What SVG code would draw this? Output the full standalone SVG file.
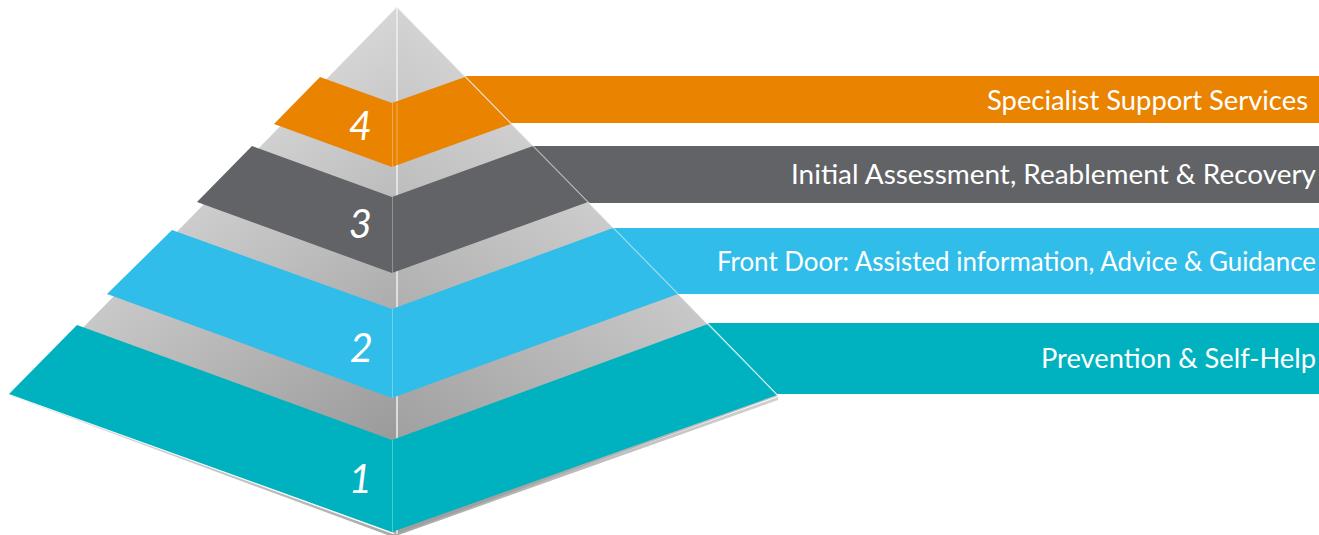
<svg xmlns="http://www.w3.org/2000/svg" width="1319" height="535" viewBox="0 0 1319 535">
  <defs>
    <style>
      .label { font-family: Lato, "Open Sans", "Liberation Sans", sans-serif; font-size: 26px; fill: #ffffff; text-anchor: end; }
      .num { font-family: Lato, "Open Sans", "Liberation Sans", sans-serif; font-size: 40px; font-style: italic; font-weight: 400; fill: #ffffff; text-anchor: end; }
      .seam { stroke: #ffffff; stroke-opacity: 0.3; stroke-width: 1; }
      .t4 { fill: #e98300; }
      .t3 { fill: #626366; }
      .t2 { fill: #31bdea; }
      .t1 { fill: #00b2bf; }
    </style>
    <linearGradient id="faceLeft" gradientUnits="userSpaceOnUse" x1="200" y1="150" x2="397" y2="440">
      <stop offset="0" stop-color="#d5d5d5"/>
      <stop offset="1" stop-color="#9a9a9a"/>
    </linearGradient>
    <linearGradient id="faceRight" gradientUnits="userSpaceOnUse" x1="600" y1="150" x2="397" y2="440">
      <stop offset="0" stop-color="#d3d3d3"/>
      <stop offset="1" stop-color="#a0a0a0"/>
    </linearGradient>
    <linearGradient id="shadow" gradientUnits="userSpaceOnUse" x1="10" y1="0" x2="778" y2="0">
      <stop offset="0" stop-color="#e4dfe2"/>
      <stop offset="0.5" stop-color="#9a9a9a"/>
      <stop offset="1" stop-color="#c8c8c8"/>
    </linearGradient>
  </defs>

  <!-- grey pyramid body -->
  <g id="pyramid">
    <polygon points="10,395 393,534 778,397 778,400 393,537 14,397" fill="url(#shadow)" opacity="0.85"/>
    <polygon points="397,7 18,394 397,534" fill="url(#faceLeft)"/>
    <polygon points="397,7 397,534 778,396" fill="url(#faceRight)"/>
    <line x1="397" y1="7" x2="397" y2="534" stroke="#efefef" stroke-width="1.5"/>
  </g>

  <!-- tier 1 -->
  <g id="tier-1">
    <polygon class="t1" points="77,325 392,440 392,532 9,394"/>
    <polygon class="t1" points="392,440 708,324 777,395 392,532"/>
    <polygon class="t1" points="708,323 1319,323 1319,394 777,394"/>
    <line class="seam" x1="392.5" y1="440" x2="392.5" y2="532"/>
    <text class="num" x="372" y="493">1</text>
    <text class="label" x="1316" y="368" textLength="275" lengthAdjust="spacingAndGlyphs">Prevention &amp; Self-Help</text>
  </g>

  <!-- tier 2 -->
  <g id="tier-2">
    <polygon class="t2" points="172,230 392,309 392,398 107,294"/>
    <polygon class="t2" points="392,309 613,228 678,294 392,398"/>
    <polygon class="t2" points="613,228 1319,228 1319,294 678,294"/>
    <line class="seam" x1="392.5" y1="309" x2="392.5" y2="398"/>
    <text class="num" x="373" y="362">2</text>
    <text class="label" x="1316" y="271" textLength="599" lengthAdjust="spacingAndGlyphs">Front Door: Assisted information, Advice &amp; Guidance</text>
  </g>

  <!-- tier 3 -->
  <g id="tier-3">
    <polygon class="t3" points="252,146 392,197 392,273 197,202"/>
    <polygon class="t3" points="392,197 533,146 588,202 392,273"/>
    <polygon class="t3" points="533,146 1319,146 1319,203 589,203"/>
    <line class="seam" x1="392.5" y1="197" x2="392.5" y2="273"/>
    <text class="num" x="372" y="238">3</text>
    <text class="label" x="1316" y="184" textLength="525" lengthAdjust="spacingAndGlyphs">Initial Assessment, Reablement &amp; Recovery</text>
  </g>

  <!-- tier 4 -->
  <g id="tier-4">
    <polygon class="t4" points="320,77 392,103 392,167 274,124"/>
    <polygon class="t4" points="392,103 465,77 511,124 392,167"/>
    <polygon class="t4" points="465,76 1319,76 1319,123 511,123"/>
    <line class="seam" x1="392.5" y1="103" x2="392.5" y2="167"/>
    <line x1="397" y1="103" x2="397" y2="167" stroke="#ffffff" stroke-opacity="0.35" stroke-width="1"/>
    <text class="num" x="372" y="140">4</text>
    <text class="label" x="1308" y="110" textLength="321" lengthAdjust="spacingAndGlyphs">Specialist Support Services</text>
  </g>

  <!-- pyramid ridge highlight drawn across the bars -->
  <g id="connectors">
    <line x1="397" y1="7" x2="778" y2="396" stroke="#ffffff" stroke-opacity="0.45" stroke-width="1.2"/>
  </g>
</svg>
